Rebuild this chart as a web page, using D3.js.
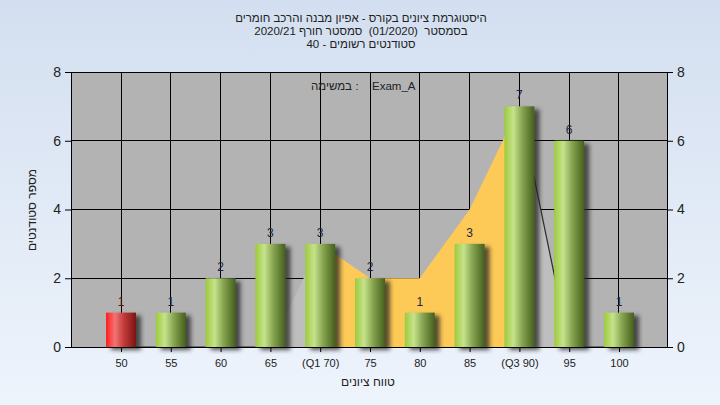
<!DOCTYPE html>
<html>
<head>
<meta charset="utf-8">
<script src="https://cdn.jsdelivr.net/npm/d3@7"></script>
<style>
  html, body { margin: 0; padding: 0; }
  svg { display: block; font-family: Arial, "Liberation Sans", sans-serif; }
  .pre { white-space: pre; }
</style>
</head>
<body>
<div id="chart"></div>
<script>
// ---- data ----
const categories = ["50", "55", "60", "65", "(Q1 70)", "75", "80", "85", "(Q3 90)", "95", "100"];
const counts = [1, 1, 2, 3, 3, 2, 1, 3, 7, 6, 1];
const barKinds = ["fail", "pass", "pass", "pass", "pass", "pass", "pass", "pass", "pass", "pass", "pass"];
const quartileArea = [null, null, null, null, 3, 2, 2, 4, 7, null, null];
const edgeArea = [null, null, null, 0, 3, null, null, null, 7, 0, null];
const outerLine = [0, 0, 0, 0, null, null, null, null, 7, 0, 0];
const yTicks = [0, 2, 4, 6, 8];
const titleLines = [
  "היסטוגרמת ציונים בקורס - אפיון מבנה והרכב חומרים",
  "בסמסטר  (01/2020)  סמסטר חורף 2020/21",
  "סטודנטים רשומים - 40"
];
const legendLabel = "במשימה";
const legendSep = ":";
const legendValue = "Exam_A";
const xTitle = "טווח ציונים";
const yTitle = "מספר סטודנטים";

// ---- layout ----
const W = 720, H = 405;
const plot = { left: 71, right: 667, top: 72, bottom: 347 };

const svg = d3.select("#chart").append("svg").attr("width", W).attr("height", H);
const defs = svg.append("defs");

const bg = defs.append("linearGradient").attr("id", "bg").attr("x1", 0).attr("y1", 0).attr("x2", 0).attr("y2", 1);
bg.append("stop").attr("offset", 0).attr("stop-color", "#d3dff0");
bg.append("stop").attr("offset", 1).attr("stop-color", "#eef4fc");

const gGreen = defs.append("linearGradient").attr("id", "gGreen").attr("x1", 0).attr("y1", 0).attr("x2", 1).attr("y2", 0);
[[0, "#9ccb3c"], [0.3, "#c6e28c"], [0.6, "#86a450"], [1, "#445f1c"]].forEach(s =>
  gGreen.append("stop").attr("offset", s[0]).attr("stop-color", s[1]));
const gRed = defs.append("linearGradient").attr("id", "gRed").attr("x1", 0).attr("y1", 0).attr("x2", 1).attr("y2", 0);
[[0, "#ff1e1e"], [0.3, "#f27474"], [0.6, "#c23a3a"], [1, "#7c1414"]].forEach(s =>
  gRed.append("stop").attr("offset", s[0]).attr("stop-color", s[1]));

const f = defs.append("filter").attr("id", "shadow").attr("x", "-30%").attr("y", "-30%").attr("width", "180%").attr("height", "160%");
f.append("feGaussianBlur").attr("in", "SourceAlpha").attr("stdDeviation", 2.2).attr("result", "b");
f.append("feOffset").attr("in", "b").attr("dx", 5).attr("dy", 3).attr("result", "o");
f.append("feFlood").attr("flood-color", "#222").attr("flood-opacity", 0.75).attr("result", "c");
f.append("feComposite").attr("in", "c").attr("in2", "o").attr("operator", "in").attr("result", "s");
const fm = f.append("feMerge");
fm.append("feMergeNode").attr("in", "s");
fm.append("feMergeNode").attr("in", "SourceGraphic");

svg.append("rect").attr("width", W).attr("height", H).attr("fill", "url(#bg)");

// ---- scales ----
const x = d3.scalePoint().domain(categories).range([72, 668]).padding(0.984);
const y = d3.scaleLinear().domain([0, 8]).range([plot.bottom, plot.top]);

// plot background
svg.append("rect")
  .attr("x", plot.left).attr("y", plot.top)
  .attr("width", plot.right - plot.left).attr("height", plot.bottom - plot.top)
  .attr("fill", "#b3b3b3");

// gridlines
const grid = svg.append("g");
grid.selectAll("line.h").data(yTicks).join("line")
  .attr("x1", plot.left).attr("x2", plot.right)
  .attr("y1", d => y(d)).attr("y2", d => y(d))
  .attr("stroke", "#000").attr("stroke-width", 1).attr("shape-rendering", "crispEdges");
grid.selectAll("line.v").data(categories).join("line")
  .attr("x1", d => x(d)).attr("x2", d => x(d))
  .attr("y1", plot.top).attr("y2", plot.bottom)
  .attr("stroke", "#000").attr("stroke-width", 1).attr("shape-rendering", "crispEdges");

const toPts = arr => categories.map((c, i) => ({ c, v: arr[i] }));
const area = d3.area()
  .defined(d => d.v !== null)
  .x(d => x(d.c)).y0(y(0)).y1(d => y(d.v));

// edge (light gray) area
svg.append("path").datum(toPts(edgeArea))
  .attr("d", area)
  .attr("fill", "#bebebe");

// quartile (orange) area
svg.append("path").datum(toPts(quartileArea))
  .attr("d", area)
  .attr("fill", "#fdca57");

// outer line
const line = d3.line().defined(d => d.v !== null).x(d => x(d.c)).y(d => y(d.v));
svg.append("path").datum(toPts(outerLine))
  .attr("d", line).attr("fill", "none").attr("stroke", "#2a2a2a").attr("stroke-width", 1.2);

// bars
const bw = 30;
svg.append("g").selectAll("rect").data(counts).join("rect")
  .attr("x", (d, i) => x(categories[i]) - bw / 2)
  .attr("y", d => y(d))
  .attr("width", bw)
  .attr("height", d => y(0) - y(d))
  .attr("fill", (d, i) => barKinds[i] === "fail" ? "url(#gRed)" : "url(#gGreen)")
  .attr("filter", "url(#shadow)");

// value labels
svg.append("g").selectAll("text").data(counts).join("text")
  .attr("x", (d, i) => x(categories[i]))
  .attr("y", d => y(d) - 7)
  .attr("text-anchor", "middle")
  .attr("font-size", 12)
  .attr("fill", (d, i) => barKinds[i] === "fail" ? "#5a1212" : "#1e2440")
  .text(d => d);

// axes
const axL = svg.append("g").attr("transform", `translate(${plot.left},0)`)
  .call(d3.axisLeft(y).tickValues(yTicks).tickSize(6).tickPadding(4).tickFormat(d3.format("d")));
const axR = svg.append("g").attr("transform", `translate(${plot.right},0)`)
  .call(d3.axisRight(y).tickValues(yTicks).tickSize(6).tickPadding(4).tickFormat(d3.format("d")));
const axB = svg.append("g").attr("transform", `translate(0,${plot.bottom})`)
  .call(d3.axisBottom(x).tickSize(5).tickPadding(7));
[axL, axR].forEach(a => {
  a.selectAll("text").attr("font-size", 14).attr("fill", "#222").attr("font-family", "Arial, 'Liberation Sans', sans-serif");
  a.select(".domain").attr("stroke", "#000");
  a.selectAll(".tick line").attr("stroke", "#000");
});
axB.selectAll("text").attr("font-size", 11).attr("fill", "#222").attr("font-family", "Arial, 'Liberation Sans', sans-serif");
axB.select(".domain").attr("d", `M${plot.left},0.5H${plot.right}`).attr("stroke", "#000");
axB.selectAll(".tick line").attr("stroke", "#000");

// title
svg.append("g").selectAll("text").data(titleLines).join("text")
  .attr("class", "pre")
  .attr("x", 361).attr("y", (d, i) => 22 + i * 13)
  .attr("text-anchor", "middle")
  .attr("direction", "rtl")
  .attr("font-size", 11.5)
  .attr("fill", "#222")
  .text(d => d);

// inline task label
svg.append("text")
  .attr("x", 352).attr("y", 90)
  .attr("text-anchor", "end")
  .attr("font-size", 11.5)
  .attr("fill", "#222")
  .text(legendLabel);
svg.append("text")
  .attr("x", 357).attr("y", 90)
  .attr("text-anchor", "middle")
  .attr("font-size", 11.5)
  .attr("fill", "#222")
  .text(legendSep);
svg.append("text")
  .attr("x", 372).attr("y", 90)
  .attr("font-size", 11.5)
  .attr("fill", "#222")
  .text(legendValue);

// axis titles
svg.append("text")
  .attr("x", 368).attr("y", 386)
  .attr("text-anchor", "middle")
  .attr("direction", "rtl")
  .attr("font-size", 12)
  .attr("fill", "#222")
  .text(xTitle);

svg.append("text")
  .attr("transform", "translate(36,210) rotate(-90)")
  .attr("text-anchor", "middle")
  .attr("direction", "rtl")
  .attr("font-size", 12)
  .attr("fill", "#222")
  .text(yTitle);
</script>
</body>
</html>
